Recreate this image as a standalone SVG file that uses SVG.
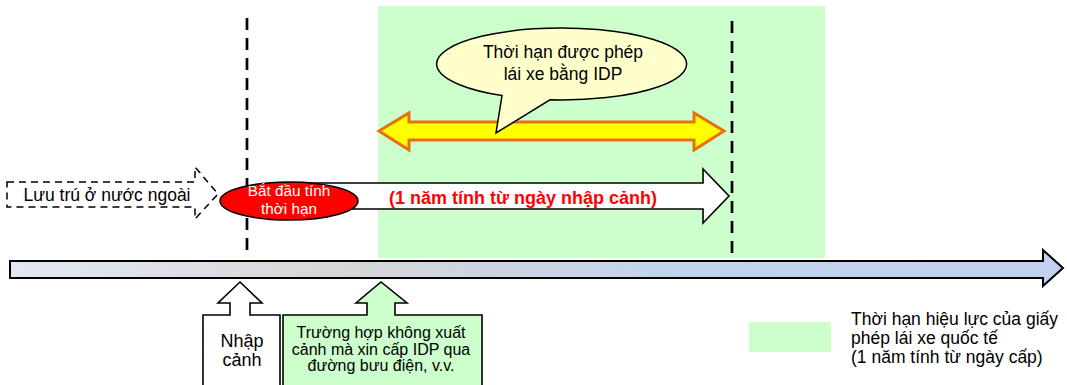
<svg xmlns="http://www.w3.org/2000/svg" width="1067" height="385" viewBox="0 0 1067 385">
<defs>
<style>
text{font-family:"Liberation Sans",Arial,sans-serif;fill:#000}
.dash{stroke:#000;stroke-width:2.7;stroke-dasharray:12,8;fill:none}
.ol{stroke:#000;stroke-width:1.6}
</style>
<linearGradient id="tl" x1="0" y1="0" x2="1" y2="0">
<stop offset="0" stop-color="#e2e8f3"/>
<stop offset="0.33" stop-color="#d6d6d6"/>
<stop offset="0.6" stop-color="#c4d3ec"/>
<stop offset="1" stop-color="#c1d1ee"/>
</linearGradient>
</defs>
<rect width="1067" height="385" fill="#fff"/>
<rect id="validity-area" x="378" y="6" width="447" height="252" fill="#ccffcc"/>

<g id="connectors">
<path id="timeline" stroke="#000" stroke-width="2" fill="url(#tl)" d="M10,261 H1043 V250 L1063,268 L1043,286 V278 H10 Z"/>
<path id="stay-arrow" fill="#fff" stroke="#000" stroke-width="1.5" stroke-dasharray="7,5" d="M7,182 H195 V167 L218,194 L195,219 V207 H7 Z"/>
<path id="period-arrow" class="ol" fill="#fff" d="M300,183 H703 V169 L729,196 L703,223 V209 H300 Z"/>
<path id="idp-arrow" fill="#ffff00" stroke="#e87010" stroke-width="3" d="M379,131 L409,113 V122 H694 V113 L724,131 L694,150 V140 H409 V150 Z"/>
<line class="dash" x1="247" y1="18" x2="247" y2="258"/>
<line class="dash" x1="732" y1="21" x2="732" y2="258"/>
</g>

<g id="stay-label">
<text x="107" y="201" font-size="17.5" text-anchor="middle">Lưu trú ở nước ngoài</text>
</g>

<g id="period-label">
<text x="523" y="204" font-size="18" font-weight="bold" text-anchor="middle" style="fill:#ff0000">(1 năm tính từ ngày nhập cảnh)</text>
</g>

<g id="start-node">
<ellipse cx="289" cy="201" rx="69" ry="19" fill="#ff0000" stroke="#000" stroke-width="1.5"/>
<text x="289" y="196" font-size="15.3" text-anchor="middle" style="fill:#fff">Bắt đầu tính</text>
<text x="289" y="214" font-size="15.3" text-anchor="middle" style="fill:#fff">thời hạn</text>
</g>

<g id="bubble">
<path fill="#ffffcc" stroke="#000" stroke-width="1.5" stroke-linejoin="miter" d="M550,99.8 A125,36 0 1 0 502,95.6 L496,133 Z"/>
<text x="563" y="58" font-size="17.5" text-anchor="middle">Thời hạn được phép</text>
<text x="563" y="80" font-size="17.5" text-anchor="middle">lái xe bằng IDP</text>
</g>

<g id="entry">
<path class="ol" fill="#fff" d="M203,385 V315 H230 V303 H218 L240,282 L262,303 H250 V315 H280 V385"/>
<text x="242" y="347" font-size="18" text-anchor="middle">Nhập</text>
<text x="242" y="366" font-size="18" text-anchor="middle">cảnh</text>
</g>

<g id="postal">
<path class="ol" fill="#ccffcc" d="M283,385 V315 H367 V303 H356 L381,282 L407,303 H395 V315 H482 V385"/>
<text x="381" y="338" font-size="16" text-anchor="middle">Trường hợp không xuất</text>
<text x="381" y="355" font-size="16" text-anchor="middle">cảnh mà xin cấp IDP qua</text>
<text x="381" y="371" font-size="16" text-anchor="middle">đường bưu điện, v.v.</text>
</g>

<g id="legend">
<rect x="749" y="322" width="82" height="30" fill="#ccffcc"/>
<text x="851" y="325" font-size="17.5">Thời hạn hiệu lực của giấy</text>
<text x="851" y="344" font-size="17.5">phép lái xe quốc tế</text>
<text x="851" y="363" font-size="17.5">(1 năm tính từ ngày cấp)</text>
</g>
</svg>
